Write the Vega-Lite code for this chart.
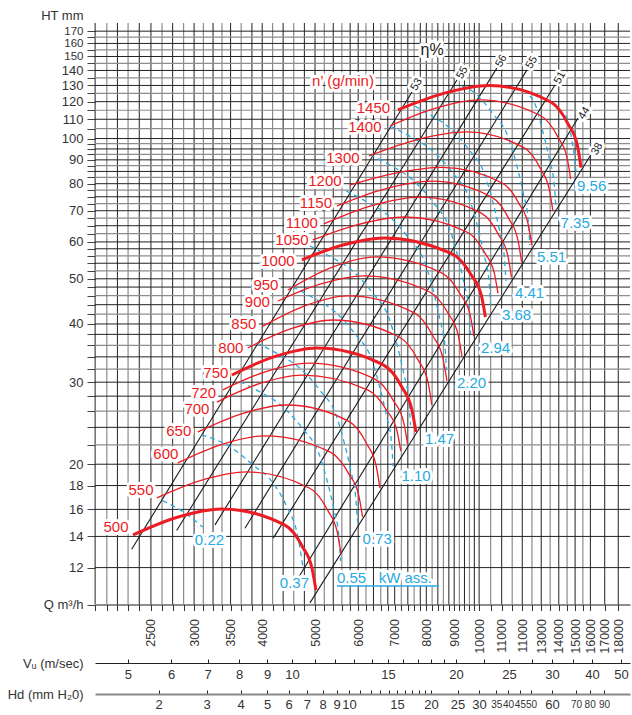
{
  "$schema": "https://vega.github.io/schema/vega-lite/v6.json",
  "width": 535,
  "height": 581.5,
  "autosize": {"type": "none"},
  "padding": {"left": 95, "top": 23, "right": 2, "bottom": 110.5},
  "config": {"view": {"stroke": null}, "font": "Liberation Sans"},
  "datasets": {
    "vgridDark": [{"q":1975},{"q":2170},{"q":2380},{"q":2500},{"q":2740},{"q":3000},{"q":3250},{"q":3500},{"q":3830},{"q":4000},{"q":4370},{"q":4780},{"q":5000},{"q":5400},{"q":5800},{"q":6000},{"q":6400},{"q":6800},{"q":7000},{"q":7400},{"q":7800},{"q":8000},{"q":8400},{"q":8800},{"q":9000},{"q":9400},{"q":9800},{"q":10000},{"q":11000},{"q":12000},{"q":13000},{"q":14000},{"q":15000},{"q":16000},{"q":17000},{"q":18000}],
    "vgridLight": [{"q":2075},{"q":2270},{"q":2620},{"q":2870},{"q":3120},{"q":3375},{"q":3660},{"q":4180},{"q":4570},{"q":5200},{"q":5600},{"q":6200},{"q":6600},{"q":7200},{"q":7600},{"q":8200},{"q":8600},{"q":9200},{"q":9600},{"q":10500},{"q":11500},{"q":12500},{"q":13500},{"q":14500},{"q":15500}],
    "hgridDark": [{"ht":12},{"ht":14},{"ht":16},{"ht":18},{"ht":20},{"ht":24},{"ht":28},{"ht":30},{"ht":34},{"ht":38},{"ht":40},{"ht":44},{"ht":48},{"ht":50},{"ht":54},{"ht":58},{"ht":60},{"ht":65},{"ht":70},{"ht":75},{"ht":80},{"ht":85},{"ht":90},{"ht":95},{"ht":100},{"ht":110},{"ht":120},{"ht":130},{"ht":140},{"ht":150},{"ht":160},{"ht":170}],
    "hgridLight": [{"ht":22},{"ht":26},{"ht":32},{"ht":36},{"ht":42},{"ht":46},{"ht":52},{"ht":56},{"ht":62.5},{"ht":67.5},{"ht":72.5},{"ht":77.5},{"ht":82.5},{"ht":87.5},{"ht":92.5},{"ht":97.5},{"ht":105},{"ht":115},{"ht":125},{"ht":135},{"ht":145},{"ht":155},{"ht":165}],
    "eta": [
      {"line":"53","q":2305,"ht":13.14},{"line":"53","q":7531,"ht":125.9},
      {"line":"55a","q":2787,"ht":14.41},{"line":"55a","q":9107,"ht":133.6},
      {"line":"56","q":3277,"ht":14.82},{"line":"56","q":10784,"ht":141.8},
      {"line":"55b","q":3719,"ht":14.58},{"line":"55b","q":12240,"ht":140.4},
      {"line":"51","q":4192,"ht":13.88},{"line":"51","q":13779,"ht":130.3},
      {"line":"44","q":4633,"ht":11.29},{"line":"44","q":15187,"ht":110.7},
      {"line":"38","q":4894,"ht":10.08},{"line":"38","q":16111,"ht":93.1}
    ],
    "etaLabels": [
      {"label":"53","q":7682,"ht":130.6},{"label":"55","q":9317,"ht":138.5},{"label":"56","q":10987,"ht":146.7},
      {"label":"55","q":12494,"ht":145.6},{"label":"51","q":14067,"ht":135.1},{"label":"44","q":15597,"ht":113.3},{"label":"38","q":16462,"ht":95.0}
    ],
    "rpm": [
      {"n":500,"q":2318,"ht":14.10},{"n":500,"q":2794,"ht":15.39},{"n":500,"q":3373,"ht":16.04},{"n":500,"q":4403,"ht":14.80},{"n":500,"q":4745,"ht":13.29},{"n":500,"q":4936,"ht":11.96},{"n":500,"q":5019,"ht":10.74},
      {"n":550,"q":2564,"ht":16.93},{"n":550,"q":3099,"ht":18.48},{"n":550,"q":3747,"ht":19.25},{"n":550,"q":4891,"ht":17.76},{"n":550,"q":5276,"ht":15.92},{"n":550,"q":5492,"ht":14.31},{"n":550,"q":5579,"ht":12.84},
      {"n":600,"q":2800,"ht":20.13},{"n":600,"q":3366,"ht":22.04},{"n":600,"q":4046,"ht":23.01},{"n":600,"q":5333,"ht":21.23},{"n":600,"q":5770,"ht":19.05},{"n":600,"q":6013,"ht":17.17},{"n":600,"q":6112,"ht":15.42},
      {"n":650,"q":3048,"ht":23.46},{"n":650,"q":3678,"ht":25.69},{"n":650,"q":4441,"ht":26.80},{"n":650,"q":5779,"ht":24.69},{"n":650,"q":6223,"ht":22.11},{"n":650,"q":6473,"ht":19.85},{"n":650,"q":6578,"ht":17.79},
      {"n":700,"q":3303,"ht":27.19},{"n":700,"q":3951,"ht":29.78},{"n":700,"q":4729,"ht":31.08},{"n":700,"q":6257,"ht":28.85},{"n":700,"q":6776,"ht":26.05},{"n":700,"q":7067,"ht":23.63},{"n":700,"q":7182,"ht":21.35},
      {"n":720,"q":3387,"ht":28.88},{"n":720,"q":4063,"ht":31.62},{"n":720,"q":4871,"ht":32.96},{"n":720,"q":6441,"ht":30.46},{"n":720,"q":6972,"ht":27.32},{"n":720,"q":7270,"ht":24.63},{"n":720,"q":7390,"ht":22.11},
      {"n":750,"q":3519,"ht":31.08},{"n":750,"q":4213,"ht":34.03},{"n":750,"q":5040,"ht":35.52},{"n":750,"q":6670,"ht":32.68},{"n":750,"q":7224,"ht":29.23},{"n":750,"q":7525,"ht":26.22},{"n":750,"q":7659,"ht":23.46},
      {"n":800,"q":3762,"ht":35.52},{"n":800,"q":4508,"ht":39.03},{"n":800,"q":5390,"ht":40.79},{"n":800,"q":7133,"ht":37.50},{"n":800,"q":7727,"ht":33.49},{"n":800,"q":8057,"ht":30.03},{"n":800,"q":8189,"ht":26.80},
      {"n":850,"q":4013,"ht":39.58},{"n":850,"q":4801,"ht":43.81},{"n":850,"q":5747,"ht":45.95},{"n":850,"q":7605,"ht":42.24},{"n":850,"q":8227,"ht":37.69},{"n":850,"q":8580,"ht":33.80},{"n":850,"q":8730,"ht":30.19},
      {"n":900,"q":4275,"ht":44.81},{"n":900,"q":5125,"ht":48.74},{"n":900,"q":6147,"ht":50.72},{"n":900,"q":8111,"ht":46.85},{"n":900,"q":8777,"ht":42.12},{"n":900,"q":9150,"ht":37.97},{"n":900,"q":9300,"ht":34.14},
      {"n":950,"q":4459,"ht":47.30},{"n":950,"q":5368,"ht":52.88},{"n":950,"q":6466,"ht":55.70},{"n":950,"q":8532,"ht":51.51},{"n":950,"q":9234,"ht":46.37},{"n":950,"q":9625,"ht":41.90},{"n":950,"q":9782,"ht":37.68},
      {"n":1000,"q":4729,"ht":54.89},{"n":1000,"q":5625,"ht":59.08},{"n":1000,"q":6689,"ht":61.19},{"n":1000,"q":8913,"ht":56.59},{"n":1000,"q":9673,"ht":50.93},{"n":1000,"q":10097,"ht":46.02},{"n":1000,"q":10268,"ht":41.42},
      {"n":1050,"q":4952,"ht":60.59},{"n":1050,"q":6020,"ht":65.46},{"n":1050,"q":7311,"ht":67.87},{"n":1050,"q":9514,"ht":62.94},{"n":1050,"q":10246,"ht":56.82},{"n":1050,"q":10660,"ht":51.50},{"n":1050,"q":10830,"ht":46.51},
      {"n":1100,"q":5192,"ht":65.57},{"n":1100,"q":6360,"ht":71.75},{"n":1100,"q":7786,"ht":74.86},{"n":1100,"q":10092,"ht":69.15},{"n":1100,"q":10862,"ht":62.12},{"n":1100,"q":11290,"ht":56.02},{"n":1100,"q":11467,"ht":50.34},
      {"n":1150,"q":5486,"ht":71.67},{"n":1150,"q":6703,"ht":77.88},{"n":1150,"q":8189,"ht":81.0},{"n":1150,"q":10561,"ht":74.79},{"n":1150,"q":11348,"ht":67.15},{"n":1150,"q":11784,"ht":60.54},{"n":1150,"q":11965,"ht":54.34},
      {"n":1200,"q":5795,"ht":79.51},{"n":1200,"q":7037,"ht":84.32},{"n":1200,"q":8544,"ht":86.70},{"n":1200,"q":11022,"ht":80.29},{"n":1200,"q":11845,"ht":72.41},{"n":1200,"q":12300,"ht":65.55},{"n":1200,"q":12493,"ht":59.09},
      {"n":1300,"q":6280,"ht":91.76},{"n":1300,"q":7707,"ht":99.47},{"n":1300,"q":9461,"ht":103.3},{"n":1300,"q":12101,"ht":95.51},{"n":1300,"q":12977,"ht":85.89},{"n":1300,"q":13460,"ht":77.54},{"n":1300,"q":13662,"ht":69.75},
      {"n":1400,"q":6862,"ht":106.4},{"n":1400,"q":8299,"ht":116.1},{"n":1400,"q":10037,"ht":121.0},{"n":1400,"q":12975,"ht":111.9},{"n":1400,"q":13953,"ht":100.7},{"n":1400,"q":14499,"ht":91.01},{"n":1400,"q":14720,"ht":81.92},
      {"n":1450,"q":7098,"ht":115.2},{"n":1450,"q":8611,"ht":125.0},{"n":1450,"q":10449,"ht":129.9},{"n":1450,"q":13535,"ht":119.8},{"n":1450,"q":14568,"ht":107.4},{"n":1450,"q":15144,"ht":96.70},{"n":1450,"q":15378,"ht":86.70}
    ],
    "kw": [
      {"p":"0.22","q":2626,"ht":16.71},{"p":"0.22","q":2847,"ht":15.88},{"p":"0.22","q":3112,"ht":14.67},
      {"p":"0.37","q":3095,"ht":23.12},{"p":"0.37","q":3489,"ht":21.82},{"p":"0.37","q":3847,"ht":19.93},{"p":"0.37","q":4187,"ht":18.24},{"p":"0.37","q":4441,"ht":16.19},{"p":"0.37","q":4652,"ht":13.96},{"p":"0.37","q":4750,"ht":12.04},
      {"p":"0.55","q":3640,"ht":30.08},{"p":"0.55","q":3962,"ht":28.59},{"p":"0.55","q":4367,"ht":26.54},{"p":"0.55","q":4750,"ht":23.81},{"p":"0.55","q":5074,"ht":21.19},{"p":"0.55","q":5258,"ht":18.51},{"p":"0.55","q":5417,"ht":15.96},{"p":"0.55","q":5532,"ht":13.96},{"p":"0.55","q":5569,"ht":12.40},
      {"p":"0.73","q":3911,"ht":36.43},{"p":"0.73","q":4257,"ht":34.58},{"p":"0.73","q":4690,"ht":32.14},{"p":"0.73","q":5104,"ht":28.83},{"p":"0.73","q":5454,"ht":25.65},{"p":"0.73","q":5648,"ht":22.41},{"p":"0.73","q":5820,"ht":19.32},{"p":"0.73","q":5940,"ht":16.91},{"p":"0.73","q":5985,"ht":15.02},
      {"p":"1.10","q":4546,"ht":48.03},{"p":"1.10","q":4942,"ht":45.65},{"p":"1.10","q":5452,"ht":42.39},{"p":"1.10","q":5928,"ht":38.02},{"p":"1.10","q":6336,"ht":33.83},{"p":"1.10","q":6559,"ht":29.54},{"p":"1.10","q":6759,"ht":25.48},{"p":"1.10","q":6906,"ht":22.30},{"p":"1.10","q":6952,"ht":19.79},
      {"p":"1.47","q":4891,"ht":58.80},{"p":"1.47","q":5324,"ht":55.89},{"p":"1.47","q":5868,"ht":51.91},{"p":"1.47","q":6386,"ht":46.56},{"p":"1.47","q":6821,"ht":41.44},{"p":"1.47","q":7066,"ht":36.19},{"p":"1.47","q":7280,"ht":31.19},{"p":"1.47","q":7433,"ht":27.29},{"p":"1.47","q":7486,"ht":24.25},
      {"p":"2.20","q":5699,"ht":77.18},{"p":"2.20","q":6198,"ht":73.35},{"p":"2.20","q":6833,"ht":68.11},{"p":"2.20","q":7433,"ht":61.10},{"p":"2.20","q":7942,"ht":54.37},{"p":"2.20","q":8229,"ht":47.49},{"p":"2.20","q":8474,"ht":40.93},{"p":"2.20","q":8657,"ht":35.81},{"p":"2.20","q":8716,"ht":31.82},
      {"p":"2.94","q":6307,"ht":92.28},{"p":"2.94","q":6862,"ht":87.74},{"p":"2.94","q":7563,"ht":81.42},{"p":"2.94","q":8229,"ht":72.99},{"p":"2.94","q":8789,"ht":64.94},{"p":"2.94","q":9108,"ht":56.73},{"p":"2.94","q":9381,"ht":48.91},{"p":"2.94","q":9582,"ht":42.80},{"p":"2.94","q":9646,"ht":38.02},
      {"p":"3.68","q":6862,"ht":106.4},{"p":"3.68","q":7463,"ht":101.1},{"p":"3.68","q":8229,"ht":93.94},{"p":"3.68","q":8950,"ht":84.30},{"p":"3.68","q":9565,"ht":74.97},{"p":"3.68","q":9911,"ht":65.48},{"p":"3.68","q":10205,"ht":56.44},{"p":"3.68","q":10427,"ht":49.38},{"p":"3.68","q":10497,"ht":43.88},
      {"p":"4.41","q":7627,"ht":117.4},{"p":"4.41","q":7969,"ht":113.9},{"p":"4.41","q":8781,"ht":105.9},{"p":"4.41","q":9558,"ht":95.0},{"p":"4.41","q":10205,"ht":84.58},{"p":"4.41","q":10577,"ht":73.81},{"p":"4.41","q":10894,"ht":63.66},{"p":"4.41","q":11125,"ht":55.70},{"p":"4.41","q":11199,"ht":49.45},
      {"p":"5.51","q":9300,"ht":129.6},{"p":"5.51","q":9718,"ht":126.5},{"p":"5.51","q":10577,"ht":113.4},{"p":"5.51","q":11297,"ht":101.0},{"p":"5.51","q":11703,"ht":88.29},{"p":"5.51","q":12056,"ht":76.06},{"p":"5.51","q":12309,"ht":66.55},{"p":"5.51","q":12390,"ht":59.09},
      {"p":"7.35","q":12390,"ht":123.4},{"p":"7.35","q":12610,"ht":120.0},{"p":"7.35","q":13054,"ht":104.8},{"p":"7.35","q":13453,"ht":90.45},{"p":"7.35","q":13744,"ht":79.12},{"p":"7.35","q":13837,"ht":70.26},
      {"p":"9.56","q":14434,"ht":112.3},{"p":"9.56","q":14799,"ht":99.31},{"p":"9.56","q":14981,"ht":90.01},{"p":"9.56","q":15059,"ht":84.83}
    ],
    "rpmLabels": [
      {"label":"500","q":2157,"ht":14.67},{"label":"550","q":2397,"ht":17.62},{"label":"600","q":2663,"ht":21.04},{"label":"650","q":2812,"ht":23.57},
      {"label":"700","q":3036,"ht":26.26},{"label":"720","q":3124,"ht":28.45},{"label":"750","q":3289,"ht":31.40},{"label":"800","q":3504,"ht":35.52},
      {"label":"850","q":3701,"ht":40.01},{"label":"900","q":3919,"ht":44.59},{"label":"950","q":4063,"ht":48.50},{"label":"1000","q":4275,"ht":54.61},
      {"label":"1050","q":4537,"ht":60.59},{"label":"1100","q":4729,"ht":65.90},{"label":"1150","q":5019,"ht":72.74},{"label":"1200","q":5214,"ht":81.08},
      {"label":"1300","q":5625,"ht":90.90},{"label":"1400","q":6172,"ht":105.9},{"label":"1450","q":6400,"ht":116.3},{"label":"n’ (g/min)","q":5627,"ht":132.9}
    ],
    "kwLabels": [
      {"label":"0.22","q":3010,"ht":13.75},{"label":"0.37","q":4309,"ht":11.12},{"label":"0.55\u00a0\u00a0\u00a0kW ass.","q":5486,"ht":11.39},
      {"label":"0.73","q":6112,"ht":13.82},{"label":"1.10","q":7204,"ht":18.91},{"label":"1.47","q":7955,"ht":22.65},{"label":"2.20","q":9108,"ht":29.87},
      {"label":"2.94","q":10079,"ht":35.57},{"label":"3.68","q":11014,"ht":41.73},{"label":"4.41","q":11635,"ht":46.62},{"label":"5.51","q":12769,"ht":55.70},
      {"label":"7.35","q":14106,"ht":65.90},{"label":"9.56","q":15123,"ht":79.12}
    ],
    "kwUnderline": [{"q1":5486,"q2":8439,"ht":10.96}],
    "etaTitle": [{"label":"η%","q":8197,"ht":154.9}]
  },
  "layer": [
    {
      "data": {"name": "vgridLight"},
      "mark": {"type": "rule", "color": "#8c8c8c", "strokeWidth": 1.2},
      "encoding": {"x": {"field": "q", "type": "quantitative", "scale": {"type": "log", "domain": [1974, 18915], "nice": false}, "axis": null}}
    },
    {
      "data": {"name": "vgridDark"},
      "mark": {"type": "rule", "color": "#222222", "strokeWidth": 1},
      "encoding": {"x": {"field": "q", "type": "quantitative", "scale": {"type": "log", "domain": [1974, 18915], "nice": false},
        "axis": {"orient": "bottom", "values": [1975,2075,2170,2270,2380,2500,2620,2740,2870,3000,3120,3250,3375,3500,3660,3830,4000,4180,4370,4570,4780,5000,5200,5400,5600,5800,6000,6200,6400,6600,6800,7000,7200,7400,7600,7800,8000,8200,8400,8600,8800,9000,9200,9400,9600,9800,10000,10500,11000,11500,12000,12500,13000,13500,14000,14500,15000,15500,16000,17000,18000],
          "format": "d",
          "labelExpr": "datum.value == 12000 ? '11000' : (indexof([2500,3000,3500,4000,5000,6000,7000,8000,9000,10000,11000,13000,14000,15000,16000,17000,18000], datum.value) >= 0 ? datum.label : '')",
          "labelAngle": 270, "labelAlign": "right", "labelBaseline": "middle", "labelPadding": 8, "labelFontSize": 12.5, "labelColor": "#333333",
          "labelOverlap": false, "labelFlush": false, "labelBound": false,
          "tickSize": 6, "tickColor": "#333333", "domainColor": "#1a1a1a", "grid": false,
          "title": "Q m³/h", "titleX": -12, "titleY": 0, "titleAlign": "right", "titleBaseline": "middle", "titleAngle": 0,
          "titleFontSize": 13, "titleFontWeight": "normal", "titleColor": "#333333", "titlePadding": 0}}}
    },
    {
      "data": {"name": "hgridLight"},
      "mark": {"type": "rule", "color": "#8c8c8c", "strokeWidth": 1.2},
      "encoding": {"y": {"field": "ht", "type": "quantitative", "scale": {"type": "log", "domain": [10, 177], "nice": false}, "axis": null}}
    },
    {
      "data": {"name": "hgridDark"},
      "mark": {"type": "rule", "color": "#222222", "strokeWidth": 1},
      "encoding": {"y": {"field": "ht", "type": "quantitative", "scale": {"type": "log", "domain": [10, 177], "nice": false}, "axis": null}}
    },
    {
      "data": {"values": [{"ht": 50}]},
      "mark": {"type": "point", "opacity": 0},
      "encoding": {"y": {"field": "ht", "type": "quantitative", "scale": {"type": "log", "domain": [10, 177], "nice": false},
        "axis": {"orient": "left", "values": [10,12,14,16,18,20,22,24,26,28,30,32,34,36,38,40,42,44,46,48,50,52,54,56,58,60,62.5,65,67.5,70,72.5,75,77.5,80,82.5,85,87.5,90,92.5,95,97.5,100,105,110,115,120,125,130,135,140,145,150,155,160,165,170],
          "format": "d",
          "labelExpr": "indexof([12,14,16,18,20,30,40,50,60,70,80,90,100,110,120,130,140,150,160,170], datum.value) >= 0 ? datum.label : ''",
          "labelFontSize": {"condition": {"test": "datum.value >= 150", "value": 11.5}, "value": 13},
          "tickSize": 8, "tickColor": "#444444", "domain": false, "grid": false,
          "labelPadding": 4, "labelColor": "#333333", "labelOverlap": false, "labelBound": false, "labelFlush": false, "labelBaseline": "middle", "labelAngle": 0,
          "title": "HT mm", "titleAngle": 0, "titleX": -12, "titleY": -8, "titleAlign": "right", "titleBaseline": "middle",
          "titleFontSize": 13, "titleFontWeight": "normal", "titleColor": "#333333"}}}
    },
    {
      "mark": {"type": "rule", "color": "#222222", "strokeWidth": 1},
      "encoding": {
        "x": {"datum": 1975, "type": "quantitative", "scale": {"type": "log", "domain": [1974, 18915], "nice": false}, "axis": null},
        "y": {"datum": 10, "type": "quantitative", "scale": {"type": "log", "domain": [10, 177], "nice": false}, "axis": null},
        "y2": {"datum": 5.8}
      }
    },
    {
      "data": {"name": "eta"},
      "mark": {"type": "line", "color": "#1a1a1a", "strokeWidth": 1.1},
      "encoding": {
        "x": {"field": "q", "type": "quantitative", "scale": {"type": "log", "domain": [1974, 18915], "nice": false}, "axis": null},
        "y": {"field": "ht", "type": "quantitative", "scale": {"type": "log", "domain": [10, 177], "nice": false}, "axis": null},
        "detail": {"field": "line", "type": "nominal"}
      }
    },
    {
      "data": {"name": "kw"},
      "mark": {"type": "line", "color": "#29a9e0", "strokeWidth": 1.3, "strokeDash": [5, 4], "interpolate": "monotone"},
      "encoding": {
        "x": {"field": "q", "type": "quantitative", "scale": {"type": "log", "domain": [1974, 18915], "nice": false}, "axis": null},
        "y": {"field": "ht", "type": "quantitative", "scale": {"type": "log", "domain": [10, 177], "nice": false}, "axis": null},
        "detail": {"field": "p", "type": "nominal"}
      }
    },
    {
      "data": {"name": "rpm"},
      "transform": [{"filter": "indexof([500,750,1000,1450], datum.n) < 0"}],
      "mark": {"type": "line", "color": "#ec1c24", "strokeWidth": 1.3, "interpolate": "monotone"},
      "encoding": {
        "x": {"field": "q", "type": "quantitative", "scale": {"type": "log", "domain": [1974, 18915], "nice": false}, "axis": null},
        "y": {"field": "ht", "type": "quantitative", "scale": {"type": "log", "domain": [10, 177], "nice": false}, "axis": null},
        "detail": {"field": "n", "type": "nominal"}
      }
    },
    {
      "data": {"name": "rpm"},
      "transform": [{"filter": "indexof([500,750,1000,1450], datum.n) >= 0"}],
      "mark": {"type": "line", "color": "#ec1c24", "strokeWidth": 3, "interpolate": "monotone"},
      "encoding": {
        "x": {"field": "q", "type": "quantitative", "scale": {"type": "log", "domain": [1974, 18915], "nice": false}, "axis": null},
        "y": {"field": "ht", "type": "quantitative", "scale": {"type": "log", "domain": [10, 177], "nice": false}, "axis": null},
        "detail": {"field": "n", "type": "nominal"}
      }
    },
    {
      "data": {"name": "etaLabels"},
      "mark": {"type": "text", "fontSize": 11, "angle": 300, "color": "white", "stroke": "white", "strokeWidth": 6, "strokeJoin": "round"},
      "encoding": {
        "x": {"field": "q", "type": "quantitative", "scale": {"type": "log", "domain": [1974, 18915], "nice": false}, "axis": null},
        "y": {"field": "ht", "type": "quantitative", "scale": {"type": "log", "domain": [10, 177], "nice": false}, "axis": null},
        "text": {"field": "label"}
      }
    },
    {
      "data": {"name": "etaLabels"},
      "mark": {"type": "text", "fontSize": 11, "angle": 300, "color": "#1a1a1a"},
      "encoding": {
        "x": {"field": "q", "type": "quantitative", "scale": {"type": "log", "domain": [1974, 18915], "nice": false}, "axis": null},
        "y": {"field": "ht", "type": "quantitative", "scale": {"type": "log", "domain": [10, 177], "nice": false}, "axis": null},
        "text": {"field": "label"}
      }
    },
    {
      "data": {"name": "etaTitle"},
      "mark": {"type": "text", "fontSize": 16, "color": "white", "stroke": "white", "strokeWidth": 6, "strokeJoin": "round"},
      "encoding": {
        "x": {"field": "q", "type": "quantitative", "scale": {"type": "log", "domain": [1974, 18915], "nice": false}, "axis": null},
        "y": {"field": "ht", "type": "quantitative", "scale": {"type": "log", "domain": [10, 177], "nice": false}, "axis": null},
        "text": {"field": "label"}
      }
    },
    {
      "data": {"name": "etaTitle"},
      "mark": {"type": "text", "fontSize": 16, "color": "#1a1a1a"},
      "encoding": {
        "x": {"field": "q", "type": "quantitative", "scale": {"type": "log", "domain": [1974, 18915], "nice": false}, "axis": null},
        "y": {"field": "ht", "type": "quantitative", "scale": {"type": "log", "domain": [10, 177], "nice": false}, "axis": null},
        "text": {"field": "label"}
      }
    },
    {
      "data": {"name": "rpmLabels"},
      "mark": {"type": "text", "fontSize": 15, "color": "white", "stroke": "white", "strokeWidth": 6, "strokeJoin": "round"},
      "encoding": {
        "x": {"field": "q", "type": "quantitative", "scale": {"type": "log", "domain": [1974, 18915], "nice": false}, "axis": null},
        "y": {"field": "ht", "type": "quantitative", "scale": {"type": "log", "domain": [10, 177], "nice": false}, "axis": null},
        "text": {"field": "label"}
      }
    },
    {
      "data": {"name": "rpmLabels"},
      "mark": {"type": "text", "fontSize": 15, "color": "#ec1c24"},
      "encoding": {
        "x": {"field": "q", "type": "quantitative", "scale": {"type": "log", "domain": [1974, 18915], "nice": false}, "axis": null},
        "y": {"field": "ht", "type": "quantitative", "scale": {"type": "log", "domain": [10, 177], "nice": false}, "axis": null},
        "text": {"field": "label"}
      }
    },
    {
      "data": {"name": "kwLabels"},
      "mark": {"type": "text", "fontSize": 15, "align": "left", "color": "white", "stroke": "white", "strokeWidth": 6, "strokeJoin": "round"},
      "encoding": {
        "x": {"field": "q", "type": "quantitative", "scale": {"type": "log", "domain": [1974, 18915], "nice": false}, "axis": null},
        "y": {"field": "ht", "type": "quantitative", "scale": {"type": "log", "domain": [10, 177], "nice": false}, "axis": null},
        "text": {"field": "label"}
      }
    },
    {
      "data": {"name": "kwLabels"},
      "mark": {"type": "text", "fontSize": 15, "align": "left", "color": "#29a9e0"},
      "encoding": {
        "x": {"field": "q", "type": "quantitative", "scale": {"type": "log", "domain": [1974, 18915], "nice": false}, "axis": null},
        "y": {"field": "ht", "type": "quantitative", "scale": {"type": "log", "domain": [10, 177], "nice": false}, "axis": null},
        "text": {"field": "label"}
      }
    },
    {
      "data": {"name": "kwUnderline"},
      "mark": {"type": "rule", "color": "#29a9e0", "strokeWidth": 1.5},
      "encoding": {
        "x": {"field": "q1", "type": "quantitative", "scale": {"type": "log", "domain": [1974, 18915], "nice": false}, "axis": null},
        "x2": {"field": "q2"},
        "y": {"field": "ht", "type": "quantitative", "scale": {"type": "log", "domain": [10, 177], "nice": false}, "axis": null}
      }
    },
    {
      "data": {"values": [{"q": 5000}]},
      "mark": {"type": "point", "opacity": 0},
      "encoding": {"x": {"field": "q", "type": "quantitative", "scale": {"type": "log", "domain": [1974, 18915], "nice": false},
        "axis": {"orient": "bottom", "offset": 58.5,
          "values": [2268.5,2722,3176,3630,4083,4537,4991,5444,5898,6352,6805.5,7259,7713,8166.6,8620,9074,10208,11342.5,12477,13611,14860,16109,18210],
          "labelExpr": "['5','6','7','8','9','10','','','','','15','','','','','20','','25','','30','','40','50'][indexof([2268.5,2722,3176,3630,4083,4537,4991,5444,5898,6352,6805.5,7259,7713,8166.6,8620,9074,10208,11342.5,12477,13611,14860,16109,18210], datum.value)]",
          "tickSize": -4, "tickColor": "#222222", "domainColor": "#222222", "grid": false,
          "labelPadding": 15, "labelBaseline": "middle", "labelAngle": 0, "labelFontSize": 13, "labelColor": "#333333", "labelOverlap": false, "labelFlush": false, "labelBound": false,
          "title": "Vᵤ (m/sec)", "titleX": -12, "titleY": 0, "titleAlign": "right", "titleBaseline": "middle", "titleAngle": 0,
          "titleFontSize": 13, "titleFontWeight": "normal", "titleColor": "#333333"}}}
    },
    {
      "data": {"values": [{"q": 5000}]},
      "mark": {"type": "point", "opacity": 0},
      "encoding": {"x": {"field": "q", "type": "quantitative", "scale": {"type": "log", "domain": [1974, 18915], "nice": false},
        "axis": {"orient": "bottom", "offset": 89.5,
          "values": [2582,3162,3651,4082,4472,4830,5163,5477,5773,6055,6324,6582,6831,7070,7302,7527,7745,7957,8164,9128,9999,10750,11300,11880,12450,13605,15060,15950,16944],
          "labelExpr": "['2','3','4','5','6','7','8','9','10','','','','','15','','','','','20','25','30','35','40','45','50','60','70','80','90'][indexof([2582,3162,3651,4082,4472,4830,5163,5477,5773,6055,6324,6582,6831,7070,7302,7527,7745,7957,8164,9128,9999,10750,11300,11880,12450,13605,15060,15950,16944], datum.value)]",
          "labelFontSize": {"condition": {"test": "(datum.value > 10500 && datum.value < 13000) || datum.value > 14500", "value": 10}, "value": 13},
          "tickSize": -4, "tickColor": "#222222", "domainColor": "#8a8a8a", "domainWidth": 2, "grid": false,
          "labelPadding": 14, "labelBaseline": "middle", "labelAngle": 0, "labelColor": "#333333", "labelOverlap": false, "labelFlush": false, "labelBound": false,
          "title": "Hd (mm H₂0)", "titleX": -12, "titleY": 0, "titleAlign": "right", "titleBaseline": "middle", "titleAngle": 0,
          "titleFontSize": 13, "titleFontWeight": "normal", "titleColor": "#333333"}}}
    }
  ],
  "resolve": {"axis": {"x": "independent", "y": "independent"}}
}
